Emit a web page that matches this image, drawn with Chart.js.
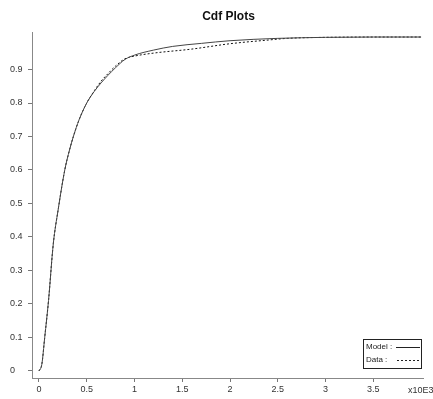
<!DOCTYPE html>
<html>
<head>
<meta charset="utf-8">
<script src="https://cdn.jsdelivr.net/npm/chart.js@4"></script>
<style>
  html, body { margin: 0; padding: 0; background: #fff; }
  #wrap { width: 433px; height: 399px; position: relative; }
</style>
</head>
<body>
<div id="wrap"><canvas id="chart"></canvas></div>
<script>
// values (x in units of 10^3)
const modelX = [0, 0.03, 0.06, 0.1, 0.15, 0.2, 0.27, 0.32, 0.36, 0.42, 0.5, 0.58, 0.65, 0.72, 0.8, 0.9, 1.0, 1.2, 1.4, 1.7, 2.0, 2.5, 3.0, 3.5, 4.0];
const modelY = [0, 0.02, 0.10, 0.21, 0.38, 0.48, 0.60, 0.66, 0.70, 0.75, 0.80, 0.835, 0.86, 0.882, 0.905, 0.93, 0.943, 0.958, 0.969, 0.978, 0.986, 0.993, 0.996, 0.997, 0.997];
const dataX = [0, 0.03, 0.06, 0.1, 0.15, 0.2, 0.27, 0.32, 0.36, 0.42, 0.5, 0.58, 0.65, 0.72, 0.8, 0.9, 1.0, 1.2, 1.6, 2.0, 2.4, 2.6, 3.0, 3.5, 4.0];
const dataY = [0, 0.02, 0.10, 0.21, 0.38, 0.48, 0.60, 0.66, 0.70, 0.75, 0.80, 0.837, 0.865, 0.887, 0.91, 0.932, 0.94, 0.949, 0.961, 0.977, 0.988, 0.993, 0.996, 0.997, 0.997];
const xTicks = [0, 0.5, 1, 1.5, 2, 2.5, 3, 3.5];
const yTicks = [0, 0.1, 0.2, 0.3, 0.4, 0.5, 0.6, 0.7, 0.8, 0.9];

const tickFont = { family: 'Liberation Sans, Arial, sans-serif', size: 9 };

// title, x10E3 note and the boxed legend
const extras = {
    id: 'extras',
    afterDraw(c) {
        const ctx = c.ctx;
        const a = c.chartArea;
        ctx.save();
        ctx.fillStyle = '#111';
        ctx.font = 'bold 12px Liberation Sans, Arial, sans-serif';
        ctx.textAlign = 'center';
        ctx.textBaseline = 'middle';
        ctx.fillText('Cdf Plots', (a.left + a.right) / 2 + 1, 17);

        ctx.font = '9px Liberation Sans, Arial, sans-serif';
        ctx.fillStyle = '#333';
        ctx.textAlign = 'left';
        ctx.fillText('x10E3', 408, 391);

        // legend box
        ctx.strokeStyle = '#222';
        ctx.lineWidth = 1;
        ctx.strokeRect(363.5, 339.5, 58, 29);
        ctx.fillStyle = '#222';
        ctx.font = '8px Liberation Sans, Arial, sans-serif';
        ctx.fillText('Model :', 366, 347);
        ctx.fillText('Data :', 366, 360);
        ctx.beginPath();
        ctx.moveTo(396, 347.5);
        ctx.lineTo(420, 347.5);
        ctx.stroke();
        ctx.setLineDash([2, 2]);
        ctx.beginPath();
        ctx.moveTo(397, 360.5);
        ctx.lineTo(420, 360.5);
        ctx.stroke();
        ctx.restore();
    }
};

new Chart(document.getElementById('chart'), {
    type: 'scatter',
    data: {
        datasets: [{
            label: 'Model',
            data: modelX.map((x, i) => ({ x: x, y: modelY[i] })),
            showLine: true,
            borderColor: '#444',
            borderWidth: 1,
            pointRadius: 0,
            cubicInterpolationMode: 'monotone'
        }, {
            label: 'Data',
            data: dataX.map((x, i) => ({ x: x, y: dataY[i] })),
            showLine: true,
            borderColor: '#111',
            borderWidth: 1,
            borderDash: [2, 2],
            pointRadius: 0,
            cubicInterpolationMode: 'monotone'
        }]
    },
    options: {
        responsive: true,
        maintainAspectRatio: false,
        animation: false,
        layout: { padding: { top: 32, left: 10, right: 10, bottom: 0 } },
        plugins: {
            legend: { display: false },
            title: { display: false },
            tooltip: { enabled: false }
        },
        scales: {
            x: {
                type: 'linear',
                min: -0.073,
                max: 4.02,
                afterBuildTicks: s => { s.ticks = xTicks.map(v => ({ value: v })); },
                afterFit: s => { s.height = 21; },
                ticks: {
                    font: tickFont,
                    color: '#333',
                    padding: 2,
                    maxRotation: 0,
                    callback: v => String(v)
                },
                grid: { drawOnChartArea: false, drawTicks: true, tickLength: 4, color: '#777' },
                border: { display: true, color: '#888', width: 1 }
            },
            y: {
                min: -0.021,
                max: 1.012,
                afterBuildTicks: s => { s.ticks = yTicks.map(v => ({ value: v })); },
                afterFit: s => { s.width = 22; },
                ticks: {
                    font: tickFont,
                    color: '#333',
                    crossAlign: 'far',
                    callback: v => String(Math.round(v * 10) / 10)
                },
                grid: { drawOnChartArea: false, drawTicks: true, tickLength: 4, color: '#777' },
                border: { display: true, color: '#888', width: 1 }
            }
        }
    },
    plugins: [extras]
});
</script>
</body>
</html>
